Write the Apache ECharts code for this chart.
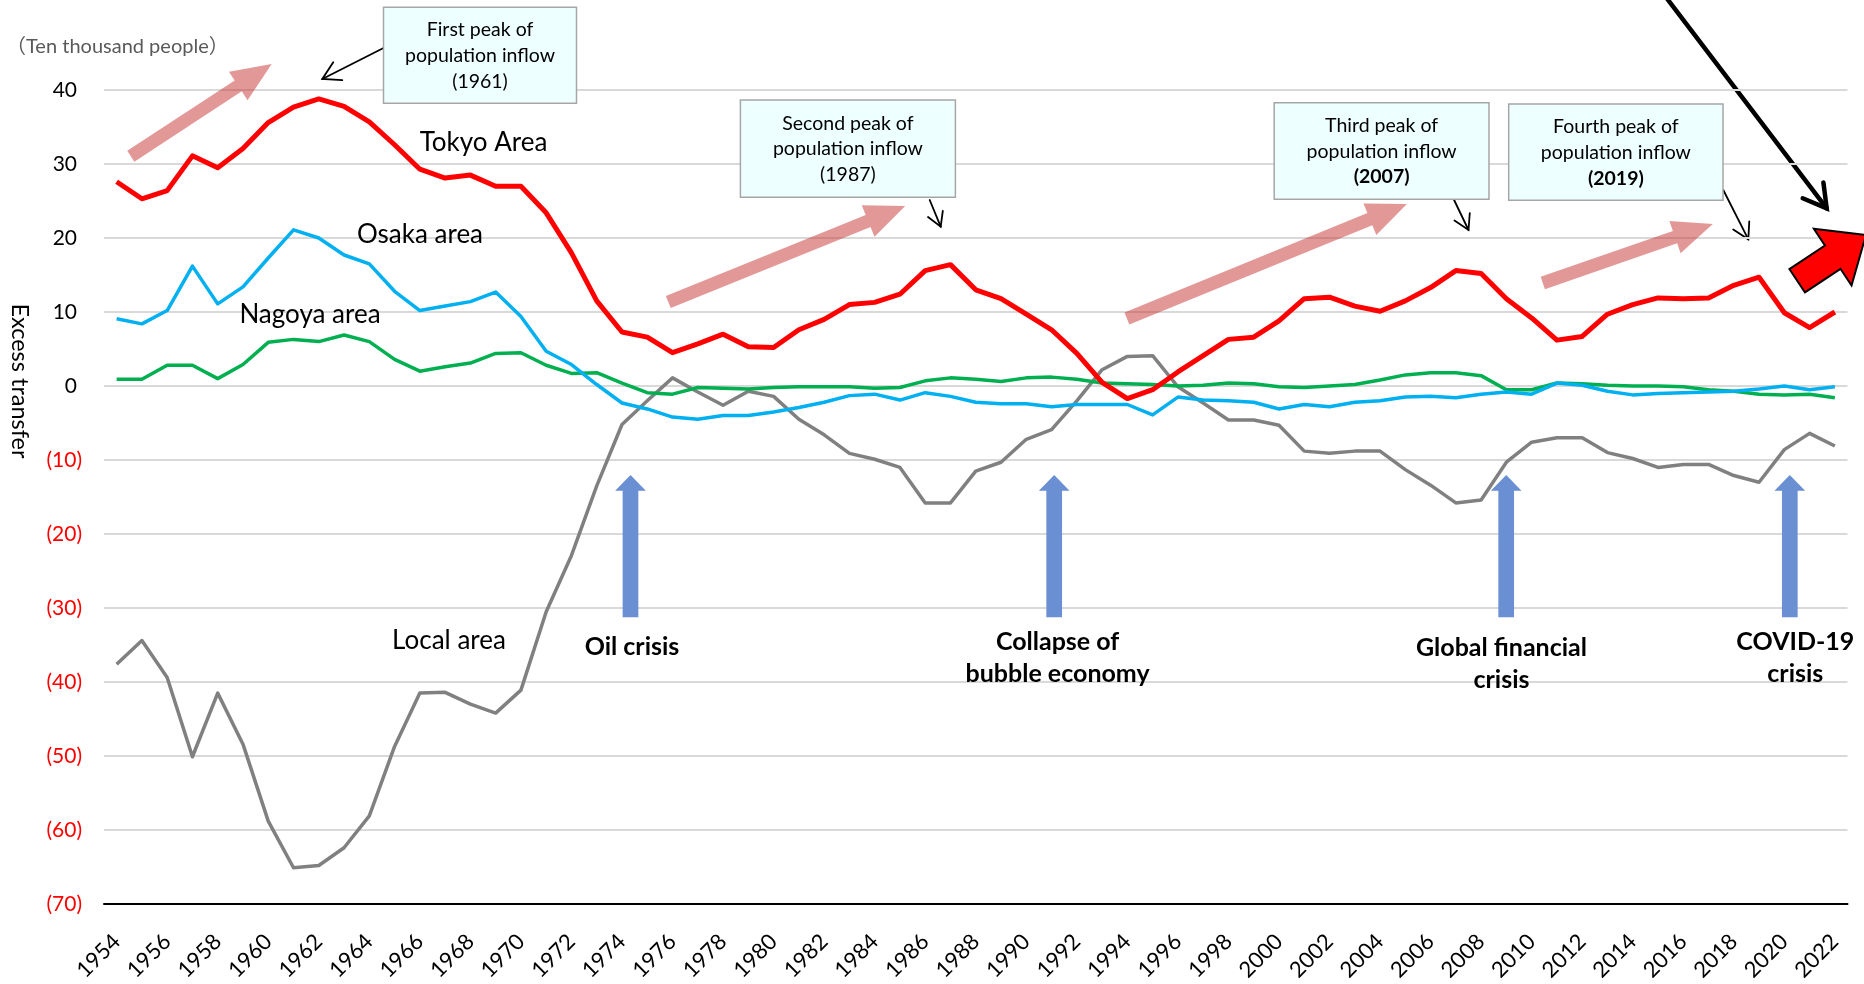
<!DOCTYPE html>
<html>
<head>
<meta charset="utf-8">
<script src="https://cdn.jsdelivr.net/npm/echarts@6/dist/echarts.min.js"></script>
<style>
  html, body { margin: 0; padding: 0; background: #ffffff; }
  #chart { width: 1864px; height: 984px; }
</style>
</head>
<body>
<div id="chart"></div>
<script>
// Net migration (excess transfer) by area, in ten thousand people
const years = [
  '1954','1955','1956','1957','1958','1959','1960','1961','1962','1963',
  '1964','1965','1966','1967','1968','1969','1970','1971','1972','1973',
  '1974','1975','1976','1977','1978','1979','1980','1981','1982','1983',
  '1984','1985','1986','1987','1988','1989','1990','1991','1992','1993',
  '1994','1995','1996','1997','1998','1999','2000','2001','2002','2003',
  '2004','2005','2006','2007','2008','2009','2010','2011','2012','2013',
  '2014','2015','2016','2017','2018','2019','2020','2021','2022'
];

const tokyoArea = [
  27.6, 25.3, 26.4, 31.1, 29.5, 32.1, 35.6, 37.7, 38.8, 37.8,
  35.7, 32.6, 29.3, 28.1, 28.5, 27.0, 27.0, 23.4, 18.0, 11.5,
  7.3, 6.6, 4.5, 5.7, 7.0, 5.3, 5.2, 7.6, 9.0, 11.0,
  11.3, 12.4, 15.6, 16.4, 13.0, 11.8, 9.7, 7.6, 4.4, 0.5,
  -1.7, -0.5, 1.9, 4.1, 6.3, 6.6, 8.8, 11.8, 12.0, 10.8,
  10.1, 11.5, 13.3, 15.6, 15.2, 11.8, 9.2, 6.2, 6.7, 9.7,
  11.0, 11.9, 11.8, 11.9, 13.6, 14.7, 9.9, 7.9, 10.0
];

const osakaArea = [
  9.1, 8.4, 10.2, 16.2, 11.1, 13.4, 17.3, 21.1, 20.0, 17.7,
  16.5, 12.8, 10.2, 10.8, 11.4, 12.7, 9.4, 4.7, 2.9, 0.2,
  -2.3, -3.1, -4.2, -4.5, -4.0, -4.0, -3.5, -2.9, -2.2, -1.3,
  -1.1, -1.9, -0.9, -1.4, -2.2, -2.4, -2.4, -2.8, -2.5, -2.5,
  -2.5, -3.9, -1.5, -1.9, -2.0, -2.2, -3.1, -2.5, -2.8, -2.2,
  -2.0, -1.5, -1.4, -1.6, -1.1, -0.8, -1.1, 0.4, 0.1, -0.7,
  -1.2, -1.0, -0.9, -0.8, -0.7, -0.4, 0.0, -0.5, -0.1
];

const nagoyaArea = [
  0.9, 0.9, 2.8, 2.8, 1.0, 2.9, 5.9, 6.3, 6.0, 6.9,
  6.0, 3.6, 2.0, 2.6, 3.1, 4.4, 4.5, 2.8, 1.7, 1.8,
  0.4, -0.9, -1.1, -0.2, -0.3, -0.4, -0.2, -0.1, -0.1, -0.1,
  -0.3, -0.2, 0.7, 1.1, 0.9, 0.6, 1.1, 1.2, 0.9, 0.4,
  0.3, 0.2, 0.0, 0.1, 0.4, 0.3, -0.1, -0.2, 0.0, 0.2,
  0.8, 1.5, 1.8, 1.8, 1.4, -0.5, -0.5, 0.4, 0.3, 0.1,
  0.0, 0.0, -0.1, -0.5, -0.7, -1.1, -1.2, -1.1, -1.6
];

const localArea = [
  -37.6, -34.4, -39.4, -50.1, -41.5, -48.4, -58.8, -65.1, -64.8, -62.4,
  -58.1, -48.7, -41.5, -41.4, -43.0, -44.2, -41.1, -30.5, -22.9, -13.5,
  -5.2, -2.0, 1.1, -0.8, -2.6, -0.7, -1.4, -4.5, -6.6, -9.1,
  -9.9, -11.0, -15.8, -15.8, -11.5, -10.3, -7.2, -5.9, -2.0, 2.2,
  4.0, 4.1, -0.1, -2.3, -4.6, -4.6, -5.3, -8.8, -9.1, -8.8,
  -8.8, -11.3, -13.4, -15.8, -15.4, -10.3, -7.6, -7.0, -7.0, -9.0,
  -9.8, -11.0, -10.6, -10.6, -12.1, -13.0, -8.6, -6.4, -8.1
];

const yTicks = { min: -70, max: 40, step: 10 };

const seriesNames = ['Tokyo Area', 'Osaka area', 'Nagoya area', 'Local area'];
const peakNotes = [
  ['First peak of', 'population inflow', '(1961)', false],
  ['Second peak of', 'population inflow', '(1987)', false],
  ['Third peak of', 'population inflow', '(2007)', true],
  ['Fourth peak of', 'population inflow', '(2019)', true]
];
const eventNotes = [
  ['Oil crisis'],
  ['Collapse of', 'bubble economy'],
  ['Global financial', 'crisis'],
  ['COVID-19', 'crisis']
];

const FONT = 'Lato, "Noto Sans", "Noto Sans CJK JP", sans-serif';

// ---------- drawing helpers for the decorations ----------
function blockArrow(tail, tip, shaftW, headW, headL) {
  const dx = tip[0] - tail[0], dy = tip[1] - tail[1];
  const L = Math.hypot(dx, dy);
  const ux = dx / L, uy = dy / L;
  const nx = -uy, ny = ux;
  const bx = tip[0] - ux * headL, by = tip[1] - uy * headL;
  const s = shaftW / 2, h = headW / 2;
  return [
    [tail[0] + nx * s, tail[1] + ny * s],
    [bx + nx * s, by + ny * s],
    [bx + nx * h, by + ny * h],
    [tip[0], tip[1]],
    [bx - nx * h, by - ny * h],
    [bx - nx * s, by - ny * s],
    [tail[0] - nx * s, tail[1] - ny * s]
  ];
}

function lineArrow(from, to, width, armLen, color) {
  const dx = from[0] - to[0], dy = from[1] - to[1];
  const L = Math.hypot(dx, dy);
  const bx = dx / L, by = dy / L;
  const a = Math.PI / 6;
  const rot = (ang) => [
    to[0] + armLen * (bx * Math.cos(ang) - by * Math.sin(ang)),
    to[1] + armLen * (bx * Math.sin(ang) + by * Math.cos(ang))
  ];
  return {
    type: 'group',
    z: 120,
    children: [
      { type: 'line', shape: { x1: from[0], y1: from[1], x2: to[0], y2: to[1] },
        style: { stroke: color, lineWidth: width, lineCap: 'round' } },
      { type: 'polyline', shape: { points: [rot(a), to, rot(-a)] },
        style: { stroke: color, lineWidth: width, fill: null, lineJoin: 'miter', lineCap: 'round' } }
    ]
  };
}

function textEl(text, x, y, size, opts) {
  return {
    type: 'text', z: 130, x: x, y: y,
    style: Object.assign({
      text: text, fontSize: size, fontFamily: FONT, fill: '#000000',
      align: 'center', verticalAlign: 'middle'
    }, opts || {})
  };
}

function noteBox(lines, rect, bold) {
  const [x0, y0, x1, y1] = rect;
  const last = bold ? '{b|' + lines[2] + '}' : lines[2];
  return [
    { type: 'rect', z: 110, shape: { x: x0, y: y0, width: x1 - x0, height: y1 - y0 },
      style: { fill: '#EEFFFF', stroke: '#A6A6A6', lineWidth: 1.5 } },
    textEl(lines[0] + '\n' + lines[1] + '\n' + last, (x0 + x1) / 2, (y0 + y1) / 2 + 0.5, 19.5, {
      lineHeight: 25.7,
      rich: { b: { fontWeight: 'bold', fontSize: 19.5, fontFamily: FONT, lineHeight: 25.7 } }
    })
  ];
}

const PINK = 'rgba(200, 50, 50, 0.5)';
const BLUE = '#6A8FD2';

const graphics = [];

// y-axis unit and title
graphics.push(textEl('（Ten thousand people）', 6, 46.5, 20, { fill: '#595959', align: 'left' }));
graphics.push(Object.assign(textEl('Excess transfer', 20, 381, 23.5), { rotation: -Math.PI / 2 }));

// rising-trend arrows
[
  [[130.8, 156.2], [271.7, 64.0]],
  [[668.3, 302.0], [905.2, 206.0]],
  [[1126.9, 318.5], [1406.9, 204.0]],
  [[1542.8, 283.0], [1712.8, 224.0]]
].forEach(([t, p]) => {
  graphics.push({ type: 'polygon', z: 100, shape: { points: blockArrow(t, p, 13, 34, 40) },
    style: { fill: PINK, stroke: null } });
});

// peak call-out boxes with pointers
const boxRects = [
  [383.5, 7.3, 576.5, 103.3],
  [740.4, 100.0, 955.4, 197.3],
  [1274.2, 102.7, 1489.0, 199.3],
  [1508.7, 104.0, 1723.0, 200.3]
];
peakNotes.forEach((n, i) => {
  noteBox([n[0], n[1], n[2]], boxRects[i], n[3]).forEach(g => graphics.push(g));
});
graphics.push(lineArrow([383.0, 48.3], [322.3, 79.0], 1.8, 20, '#000'));
graphics.push(lineArrow([929.7, 200.0], [940.7, 226.7], 1.8, 16, '#000'));
graphics.push(lineArrow([1454.1, 200.0], [1468.5, 230.0], 1.8, 17, '#000'));
graphics.push(lineArrow([1723.3, 190.0], [1748.3, 239.3], 1.8, 18, '#000'));

// outlook arrows at the right edge
graphics.push(lineArrow([1662.0, -8.0], [1826.7, 208.3], 4.5, 26, '#000'));
graphics.push({ type: 'polygon', z: 125,
  shape: { points: blockArrow([1797.2, 280.8], [1866.0, 235.0], 28, 68, 40) },
  style: { fill: '#FF0000', stroke: '#000000', lineWidth: 2, lineJoin: 'miter' } });

// economic shock markers
const shockX = [630.5, 1054.2, 1506.2, 1789.8];
shockX.forEach(x => {
  graphics.push({ type: 'polygon', z: 100,
    shape: { points: blockArrow([x, 617.3], [x, 475.0], 15.7, 30.7, 15.7) },
    style: { fill: BLUE, stroke: null } });
});
const eventLabelPos = [
  [632.0, [647.0]],
  [1057.6, [642.3, 673.6]],
  [1501.5, [648.3, 680.0]],
  [1795.3, [642.3, 673.6]]
];
eventNotes.forEach((lines, i) => {
  const [x, ys] = eventLabelPos[i];
  lines.forEach((t, j) => graphics.push(textEl(t, x, ys[j], 25, { fontWeight: 'bold' })));
});

// series name labels
const seriesLabelPos = [[483.5, 142.7], [420.0, 235.0], [310.0, 314.3], [449.0, 641.0]];
seriesNames.forEach((name, i) => {
  graphics.push(textEl(name, seriesLabelPos[i][0], seriesLabelPos[i][1], 26));
});

// ---------- chart ----------
const chart = echarts.init(document.getElementById('chart'), null, { renderer: 'canvas' });

function lineSeries(name, data, color, width, z) {
  return {
    name: name, type: 'line', data: data, z: z,
    showSymbol: false, symbol: 'none', smooth: false,
    lineStyle: { color: color, width: width, join: 'round' },
    itemStyle: { color: color },
    emphasis: { disabled: true },
    animation: false
  };
}

chart.setOption({
  backgroundColor: '#ffffff',
  animation: false,
  grid: { left: 104, right: 16.5, top: 90, bottom: 77.5, containLabel: false },
  xAxis: [
    {
      type: 'category', data: years, boundaryGap: true,
      axisLine: { show: false }, axisTick: { show: false },
      splitLine: { show: false },
      axisLabel: {
        interval: 1, rotate: 45, margin: 34,
        fontSize: 22, fontFamily: FONT, color: '#000000'
      }
    },
    {
      type: 'category', data: years, boundaryGap: true, position: 'bottom',
      axisLine: { show: true, onZero: true, lineStyle: { color: '#000000', width: 2 } },
      axisTick: { show: false }, axisLabel: { show: false }, splitLine: { show: false }
    }
  ],
  yAxis: {
    type: 'value', min: yTicks.min, max: yTicks.max, interval: yTicks.step,
    axisLine: { show: false }, axisTick: { show: false },
    splitLine: { show: true, lineStyle: { color: '#D9D9D9', width: 2 } },
    axisLabel: {
      margin: 22, fontSize: 21, fontFamily: FONT, align: 'right',
      formatter: v => v < 0 ? '{n|(' + (-v) + ')}' : '{p|' + v + '}',
      rich: {
        n: { color: '#FF0000', fontSize: 21, fontFamily: FONT },
        p: { color: '#000000', fontSize: 21, fontFamily: FONT, padding: [0, 5, 0, 0] }
      }
    }
  },
  series: [
    lineSeries(seriesNames[3], localArea, '#808080', 3.5, 2),
    lineSeries(seriesNames[2], nagoyaArea, '#00B050', 3.5, 3),
    lineSeries(seriesNames[1], osakaArea, '#00B0F0', 3.5, 4),
    lineSeries(seriesNames[0], tokyoArea, '#FF0000', 5, 5)
  ],
  graphic: graphics
});
</script>
</body>
</html>
